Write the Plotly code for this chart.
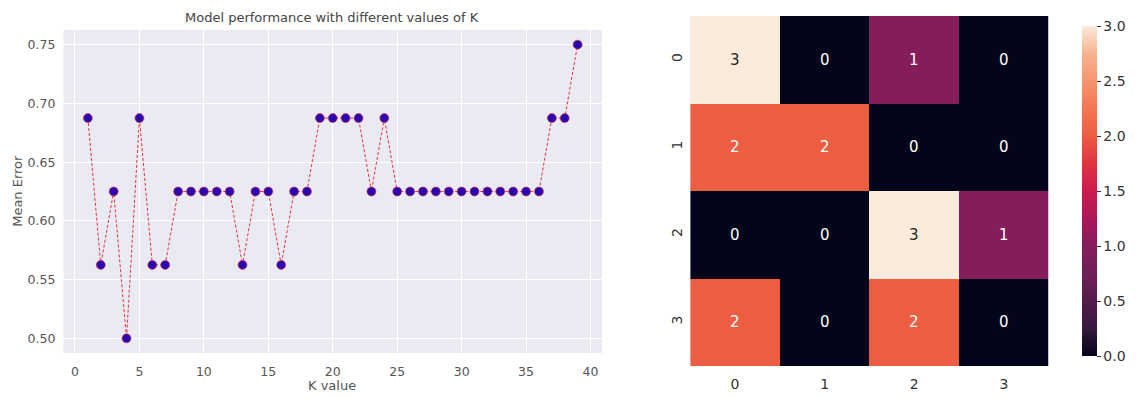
import plotly.graph_objects as go

# ---- data ----
k_values = list(range(1, 40))
mean_error = [0.6875, 0.5625, 0.625, 0.5, 0.6875, 0.5625, 0.5625, 0.625, 0.625, 0.625,
              0.625, 0.625, 0.5625, 0.625, 0.625, 0.5625, 0.625, 0.625, 0.6875, 0.6875,
              0.6875, 0.6875, 0.625, 0.6875, 0.625, 0.625, 0.625, 0.625, 0.625, 0.625,
              0.625, 0.625, 0.625, 0.625, 0.625, 0.625, 0.6875, 0.6875, 0.75]
cm_labels = ["0", "1", "2", "3"]
cm_values = [[3, 0, 1, 0],
             [2, 2, 0, 0],
             [0, 0, 3, 1],
             [2, 0, 2, 0]]
line_title = "Model performance with different values of K"
x_title = "K value"
y_title = "Mean Error"

W, H = 1136, 398
FONT = "DejaVu Sans"

rocket = [[0.0, "#03051a"], [0.083, "#35193e"], [0.25, "#701f57"], [0.333, "#851d5b"],
          [0.417, "#ad1759"], [0.5, "#cb1b4f"], [0.583, "#e13342"], [0.667, "#ec5d42"],
          [0.75, "#f37651"], [0.917, "#f6b48f"], [1.0, "#faebdd"]]

fig = go.Figure()

fig.add_trace(go.Scatter(
    x=k_values, y=mean_error, mode="lines+markers",
    line=dict(color="#e8303a", width=1, dash="3px,2px"),
    marker=dict(color="#2a06b0", size=9, line=dict(color="#e8303a", width=0.6)),
    xaxis="x", yaxis="y", showlegend=False))

fig.add_trace(go.Heatmap(
    z=cm_values, x=cm_labels, y=cm_labels, colorscale=rocket, zmin=0, zmax=3,
    xaxis="x2", yaxis="y2", xgap=0, ygap=0,
    colorbar=dict(x=1082 / W, xanchor="left", thickness=15, len=350, lenmode="pixels",
                  y=1 - 191 / H, yanchor="middle", outlinewidth=0,
                  ticks="outside", ticklen=4, tickcolor="#333", tickwidth=1,
                  tickvals=[0, 0.5, 1, 1.5, 2, 2.5, 3],
                  ticktext=["0.0", "0.5", "1.0", "1.5", "2.0", "2.5", "3.0"],
                  tickfont=dict(family=FONT, size=14, color="#333"))))

annotations = []
for i, row in enumerate(cm_values):
    for j, v in enumerate(row):
        annotations.append(dict(
            x=cm_labels[j], y=cm_labels[i], xref="x2", yref="y2", text=str(v),
            showarrow=False,
            font=dict(family=FONT, size=15, color="#262626" if v == 3 else "#ffffff")))

annotations += [
    dict(text=line_title, x=335 / W, y=1 - 18 / H, xref="paper", yref="paper",
         xanchor="center", yanchor="middle",
         showarrow=False, font=dict(family=FONT, size=13, color="#444")),
    dict(text=x_title, x=335 / W, y=1 - 385 / H, xref="paper", yref="paper",
         xanchor="center", yanchor="middle",
         showarrow=False, font=dict(family=FONT, size=13, color="#555")),
    dict(text=y_title, x=17 / W, y=1 - 191 / H, xref="paper", yref="paper",
         xanchor="center", yanchor="middle",
         showarrow=False, textangle=-90, font=dict(family=FONT, size=13, color="#555")),
]

fig.update_layout(
    width=W, height=H, margin=dict(l=0, r=0, t=0, b=0),
    paper_bgcolor="white", plot_bgcolor="#EAEAF2",
    font=dict(family=FONT),
    annotations=annotations,
    xaxis=dict(domain=[64 / W, 608 / W], range=[-0.9, 40.9], tickvals=list(range(0, 41, 5)),
               showgrid=True, gridcolor="white", gridwidth=1, zeroline=False,
               showline=False, ticklabelstandoff=9,
               tickfont=dict(family=FONT, size=12.5, color="#555"), anchor="y"),
    yaxis=dict(domain=[1 - 353 / H, 1 - 30 / H], range=[0.4875, 0.7625],
               tickvals=[0.5, 0.55, 0.6, 0.65, 0.7, 0.75], tickformat=".2f",
               showgrid=True, gridcolor="white", gridwidth=1, zeroline=False,
               showline=False, ticklabelstandoff=7,
               tickfont=dict(family=FONT, size=12.5, color="#555"), anchor="x"),
    xaxis2=dict(domain=[697 / W, 1059 / W], anchor="y2", showgrid=False, zeroline=False,
                ticklabelstandoff=8,
                tickfont=dict(family=FONT, size=14, color="#333"), ticks="", type="category"),
    yaxis2=dict(domain=[1 - 366 / H, 1 - 16 / H], anchor="x2", autorange="reversed",
                showgrid=False, zeroline=False, tickangle=-90, type="category",
                ticklabelstandoff=4,
                tickfont=dict(family=FONT, size=14, color="#333"), ticks=""),
)

fig.write_html("out.html")
